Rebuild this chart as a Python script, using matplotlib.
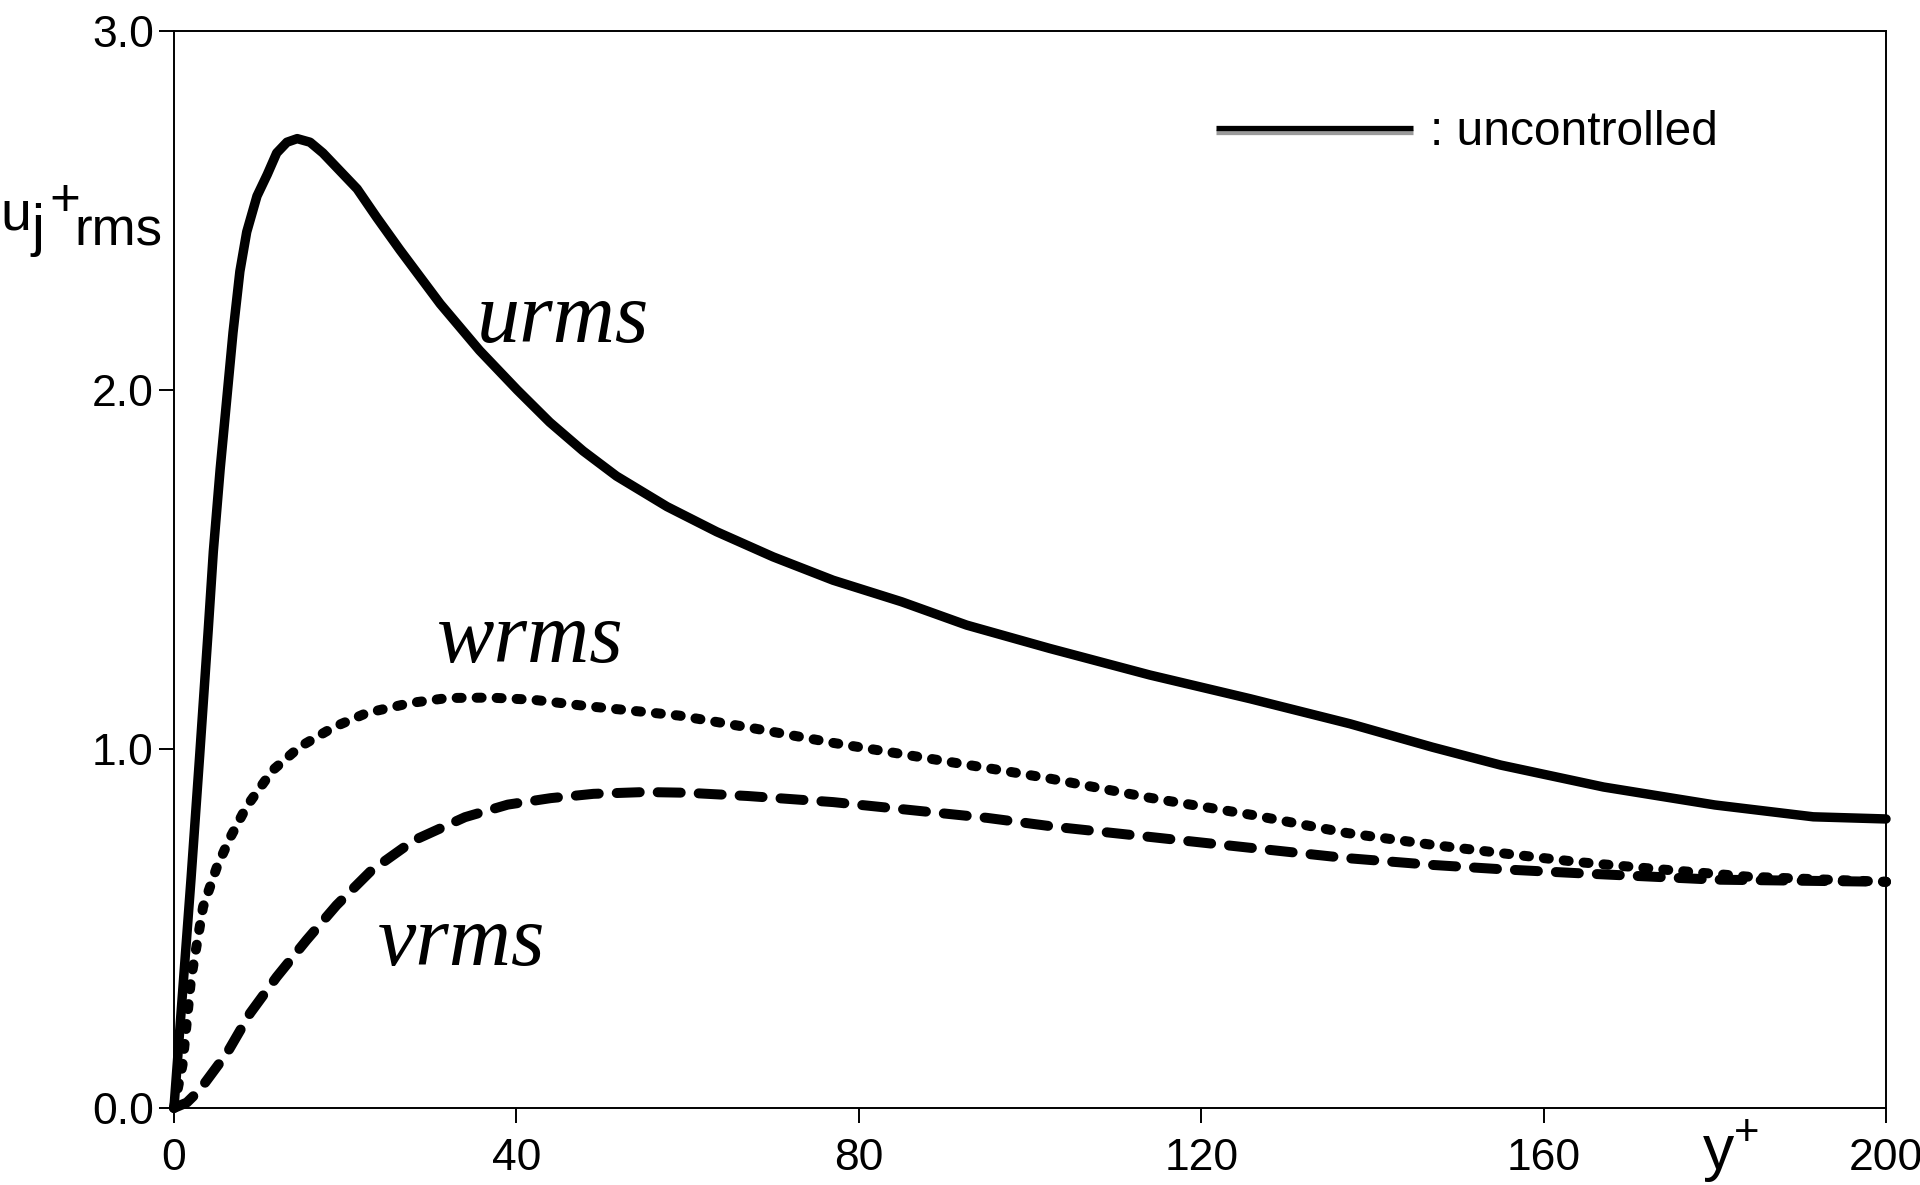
import matplotlib
matplotlib.use("Agg")
import matplotlib.pyplot as plt
from matplotlib.lines import Line2D
from matplotlib.legend_handler import HandlerLine2D
import matplotlib.patheffects as pe

plt.rcParams['font.family'] = ['Liberation Sans', 'DejaVu Sans']
plt.rcParams['mathtext.fontset'] = 'custom'
plt.rcParams['mathtext.rm'] = 'Liberation Sans'
plt.rcParams['mathtext.it'] = 'Liberation Sans:italic'

# rms velocity fluctuations versus wall distance (wall units)
y_u = [0, 1, 2, 3, 4, 4.6, 5.4, 6.15, 6.9, 7.7, 8.5, 9.7, 10.9, 12, 13.2, 14.4,
       15.9, 17.4, 19.4, 21.4, 23.7, 26.4, 31.1, 35.7, 40.1, 43.9, 47.8, 51.7,
       57.6, 63.4, 70, 77, 85, 92.6, 102.3, 114, 125.7, 137.4, 147, 155, 167,
       180, 191.5, 200]
urms = [0, 0.32, 0.64, 0.98, 1.33, 1.55, 1.78, 1.97, 2.16, 2.33, 2.44, 2.54,
        2.60, 2.66, 2.69, 2.70, 2.69, 2.66, 2.61, 2.56, 2.48, 2.39, 2.24, 2.11,
        2.00, 1.91, 1.83, 1.76, 1.675, 1.605, 1.535, 1.47, 1.41, 1.345, 1.28,
        1.206, 1.14, 1.07, 1.005, 0.955, 0.894, 0.844, 0.811, 0.805]

y_w = [0, 1, 2, 3.4, 5, 6.5, 8.5, 11.5, 14.7, 18.6, 22.5, 27.6, 32, 37, 42, 48,
       55, 59, 67.6, 77, 87, 96.5, 102, 114, 126, 137, 147, 155, 164, 172, 184,
       200]
wrms = [0, 0.12, 0.36, 0.56, 0.67, 0.75, 0.84, 0.94, 1.006, 1.06, 1.10, 1.128,
        1.142, 1.143, 1.137, 1.12, 1.103, 1.093, 1.058, 1.017, 0.978, 0.941,
        0.919, 0.864, 0.816, 0.766, 0.733, 0.71, 0.685, 0.668, 0.644, 0.63]

y_v = [0, 1.5, 3, 6.2, 8.9, 12, 15.5, 19, 23, 28, 34, 39, 44, 49, 55, 60, 67, 77,
       86, 95, 103, 114, 126, 137, 147, 155, 164, 180, 200]
vrms = [0, 0.015, 0.05, 0.153, 0.264, 0.365, 0.468, 0.565, 0.66, 0.745, 0.81,
        0.845, 0.863, 0.875, 0.88, 0.878, 0.869, 0.852, 0.83, 0.808, 0.783,
        0.755, 0.724, 0.696, 0.677, 0.665, 0.654, 0.636, 0.63]

xticks = [0, 40, 80, 120, 160, 200]
yticks = [0.0, 1.0, 2.0, 3.0]

W, H = 1920, 1185
fig = plt.figure(figsize=(W / 100, H / 100), dpi=100)
ax = fig.add_axes([0.0906, 0.065, 0.8917, 0.9089])

ax.plot(y_u, urms, color='k', lw=6.8, solid_capstyle='round',
        solid_joinstyle='round', clip_on=False)
ax.plot(y_w, wrms, color='k', lw=7.2, dashes=(0.5, 1.5),
        dash_capstyle='round', clip_on=False)
ax.plot(y_v, vrms, color='k', lw=7.2, dashes=(2.3, 1.8),
        dash_capstyle='round', clip_on=False)

ax.set_xlim(0, 200)
ax.set_ylim(0, 3)
ax.set_xticks(xticks)
ax.set_xticklabels([f'{t:d}' for t in xticks])
ax.set_yticks(yticks)
ax.set_yticklabels([f'{t:.1f}' for t in yticks])
ax.tick_params(direction='out', length=10.5, width=1.4, labelsize=32)
ax.tick_params(axis='x', pad=11)
ax.tick_params(axis='y', pad=4)
for s in ax.spines.values():
    s.set_linewidth(1.4)

# curve names
lab = dict(family='Liberation Serif', style='italic', fontsize=62,
           ha='left', va='baseline')
ax.text(35.4, 2.134, 'urms', **lab)
ax.text(30.75, 1.242, 'wrms', **lab)
ax.text(23.8, 0.398, 'vrms', **lab)

# x label
ax.set_xlabel(r'$\mathregular{y^{+}}$', fontsize=45, ha='left', va='baseline')
ax.xaxis.set_label_coords(0.8925, -0.0576)


# y label pieces, placed in pixel positions of the figure
def ftext(px, py, s, size):
    fig.text(px / W, 1 - py / H, s, fontsize=size, ha='left', va='baseline')


ftext(0, 230, 'u', 40)
ftext(31, 245, 'j', 42)
ftext(49, 216, '+', 38)
ftext(74, 245, 'rms', 38)

# legend with a grey shadow under the sample line
proxy = Line2D([], [], color='k', lw=3.8, solid_capstyle='butt',
               path_effects=[pe.SimpleLineShadow(offset=(0, -3.3),
                                                 shadow_color='#9a9a9a',
                                                 alpha=1.0),
                             pe.Normal()])
ax.legend([proxy], [': uncontrolled'], loc='center left',
          bbox_to_anchor=(0.6086, 0.906), frameon=False, borderpad=0,
          borderaxespad=0, handlelength=4.12, handletextpad=0.34,
          fontsize=34.5, handler_map={proxy: HandlerLine2D(ypad=-0.46)})

fig.savefig('out.png', dpi=100)
